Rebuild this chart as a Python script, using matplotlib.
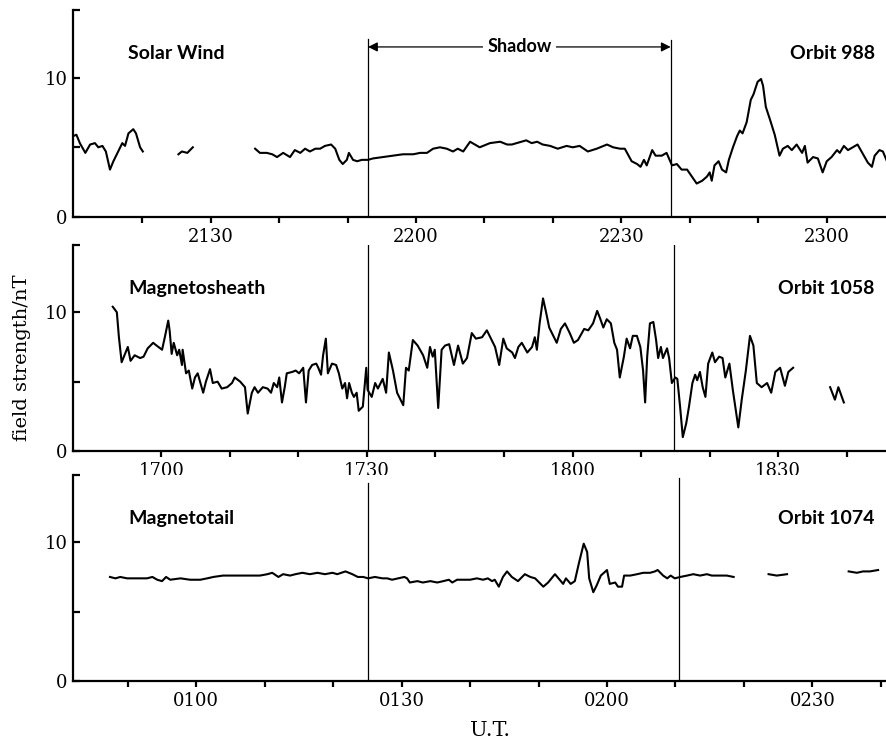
import numpy as np
import matplotlib.pyplot as plt

nan = np.nan

# Orbit 988, solar wind: minutes after 2100, field strength nT (nan = data gap)
sw_t = [9.9, 10.4, 10.9, 11.7, 12.4, 13.1, 13.6, 14.2, 14.7, 15.3, 15.8, 16.5, 17.1, 17.5, 18.0,
        18.7, 19.1, 19.7, 20.1, nan,
        25.3, 25.8, 26.6, 27.0, 27.4, nan,
        36.5, 37.2, 38.2, 39.0, 39.7, 40.6, 41.6, 42.3, 43.1, 43.8, 44.5, 45.3, 46.0, 46.7, 47.6,
        48.2, 48.8, 49.3, 49.9, 50.2, 50.8, 51.4, 52.1, 53.0, 53.7, 55.2, 56.6, 58.1, 59.6, 60.6,
        61.6, 62.5, 63.5, 64.5, 65.4, 66.1, 66.9, 67.9, 68.6, 69.3, 70.8, 72.3, 73.3, 74.0, 74.7,
        76.1, 76.9, 77.7, 78.5, 79.6, 80.7, 82.0, 82.9, 83.9, 85.1, 86.4, 87.9, 88.8, 89.8, 90.5,
        91.5, 92.3, 92.8, 93.3, 93.7, 94.5, 95.0, 95.9, 96.6, 97.4, 98.1, 98.8, 99.6, 100.3, 101.0,
        101.8, 102.5, 102.9, 103.2, 103.6, 104.2, 104.7, 105.3, 105.7, 106.3, 106.9, 107.3, 107.7,
        108.3, 108.9, 109.3, 109.9, 110.4, 110.7, 111.1, 111.7, 112.4, 113.1, 113.6, 114.3, 114.9,
        115.6, 116.4, 116.8, 117.2, 118.0, 118.7, 119.4, 120.0, 120.7, 121.5, 121.9, 122.5, 123.1,
        123.8, 124.5, 125.3, 126.0, 126.6, 127.0, 127.7, 128.2, 128.8]
sw_b = [5.8, 5.9, 5.3, 4.6, 5.2, 5.3, 5.0, 5.1, 4.7, 3.4, 4.0, 4.7, 5.3, 5.1, 6.0,
        6.3, 6.0, 5.0, 4.7, nan,
        4.5, 4.7, 4.6, 4.8, 5.0, nan,
        4.9, 4.6, 4.6, 4.5, 4.3, 4.6, 4.3, 4.8, 4.6, 4.9, 4.7, 4.9, 4.9, 5.1, 5.2,
        4.9, 4.1, 3.8, 4.1, 4.6, 4.1, 4.0, 4.1, 4.1, 4.2, 4.3, 4.4, 4.5, 4.5, 4.6,
        4.6, 4.9, 5.0, 4.9, 4.7, 4.9, 4.7, 5.4, 5.2, 5.0, 5.3, 5.4, 5.2, 5.2, 5.3,
        5.5, 5.3, 5.4, 5.2, 5.1, 4.9, 5.1, 5.0, 5.1, 4.7, 4.9, 5.2, 5.0, 4.9, 4.9,
        4.0, 3.8, 3.6, 4.1, 3.7, 4.8, 4.4, 4.4, 4.6, 3.7, 3.8, 3.4, 3.4, 2.9, 2.4,
        2.6, 2.9, 3.2, 2.6, 3.7, 4.0, 3.4, 3.2, 4.1, 5.0, 5.8, 6.2, 6.0,
        6.8, 8.4, 8.8, 9.7, 9.9, 9.4, 7.9, 7.0, 5.9, 4.4, 4.9, 5.1, 4.8,
        5.2, 4.6, 5.1, 3.9, 4.3, 4.2, 3.2, 4.0, 4.3, 4.8, 4.6, 5.1, 4.8,
        5.0, 5.2, 4.5, 3.9, 3.6, 4.4, 4.8, 4.7, 4.0]

# Orbit 1058, magnetosheath: minutes after 1700
ms_t = [-7.1, -6.5, -6.2, -5.8, -5.3, -4.9, -4.5, -3.9, -3.1, -2.6, -2.0, -1.2, -0.7, 0.1, 0.5,
        1.0, 1.2, 1.5, 1.8, 2.3, 2.6, 3.0, 3.1, 3.6, 4.0, 4.5, 4.9, 5.3, 6.1, 6.5, 7.1, 7.5, 8.2,
        8.8, 9.6, 10.3, 10.7, 11.5, 12.2, 12.6, 13.2, 13.6, 14.1, 14.8, 15.5, 16.0, 16.4, 16.9,
        17.2, 17.6, 18.0, 18.3, 19.1, 19.6, 20.1, 20.7, 21.1, 21.5, 22.0, 22.6, 22.9, 23.3, 23.6,
        24.0, 24.3, 24.9, 25.5, 25.9, 26.4, 26.8, 27.1, 27.4, 27.8, 28.1, 28.5, 28.8, 29.4, 29.9,
        30.1, 30.7, 31.2, 31.6, 32.3, 32.8, 33.2, 33.8, 34.4, 34.8, 35.3, 35.7, 36.1, 36.7, 37.4,
        38.2, 38.8, 39.2, 39.6, 39.9, 40.4, 40.9, 41.4, 42.0, 42.7, 43.3, 44.0, 44.6, 45.3, 45.9,
        46.8, 47.5, 48.2, 48.7, 49.3, 49.9, 50.4, 51.2, 51.6, 52.1, 52.6, 53.4, 54.1, 54.5, 54.8,
        55.2, 55.7, 56.1, 56.6, 57.2, 57.7, 58.3, 58.9, 59.6, 60.2, 60.8, 61.7, 62.3, 63.0, 63.6,
        64.0, 64.5, 65.0, 65.6, 66.1, 66.5, 66.9, 67.5, 67.9, 68.4, 68.8, 69.4, 69.9, 70.3, 70.6,
        70.9, 71.3, 71.8, 72.2, 72.5, 72.9, 73.2, 73.8, 74.1, 74.5, 75.0, 75.3, 75.7, 76.1, 76.6,
        77.0, 77.5, 77.9, 78.2, 78.6, 79.0, 79.4, 79.8, 80.4, 80.8, 81.4, 81.9, 82.3, 82.9, 83.4,
        84.2, 84.7, 85.3, 85.9, 86.4, 86.9, 87.6, 88.4, 89.0, 89.6, 90.3, 91.0, 91.5, 92.2, nan,
        97.6, 98.3, 98.8, 99.6]
ms_b = [10.4, 10.0, 8.2, 6.4, 7.0, 7.5, 6.5, 6.9, 6.7, 6.8, 7.4, 7.8, 7.6, 7.3, 8.2,
        9.4, 8.7, 7.0, 7.8, 6.9, 7.3, 6.2, 7.3, 5.6, 5.8, 4.5, 5.3, 5.6, 4.2, 5.0, 5.9, 4.9, 5.0,
        4.5, 4.6, 4.9, 5.3, 5.0, 4.6, 2.7, 4.2, 4.6, 4.2, 4.6, 4.5, 4.2, 4.9, 4.6,
        5.3, 3.5, 4.6, 5.6, 5.7, 5.8, 5.6, 6.0, 3.5, 5.8, 6.2, 6.3, 6.0, 5.5, 6.9,
        8.1, 5.6, 6.3, 6.2, 5.6, 4.5, 4.9, 3.8, 4.9, 4.2, 3.9, 4.2, 2.9, 3.2, 6.0,
        4.4, 3.9, 4.9, 4.5, 5.2, 4.2, 7.1, 5.8, 4.2, 3.8, 3.3, 6.0, 5.8, 8.0, 7.6,
        6.9, 6.0, 7.5, 6.8, 7.3, 3.1, 7.3, 7.6, 7.7, 6.2, 7.6, 6.3, 6.7, 8.5, 8.1,
        8.2, 8.7, 8.0, 7.5, 6.2, 8.1, 7.4, 7.1, 6.7, 7.5, 7.8, 7.1, 7.5, 8.2, 7.3,
        9.2, 11.0, 10.1, 8.9, 8.3, 7.8, 8.8, 9.2, 8.5, 7.8, 8.0, 8.8, 8.7, 9.2, 10.1,
        9.6, 8.9, 9.5, 9.2, 7.8, 7.3, 5.3, 6.8, 8.1, 7.4, 8.3, 8.3, 7.5, 5.8, 3.5,
        6.8, 9.2, 9.3, 8.0, 6.7, 7.5, 6.7, 7.4, 6.7, 4.9, 5.3, 5.2, 3.2, 1.0, 2.0,
        3.2, 4.9, 5.5, 5.1, 5.7, 4.6, 3.9, 6.3, 7.1, 6.4, 6.8, 6.7, 5.3, 6.3, 4.4,
        1.7, 3.7, 5.8, 8.3, 7.6, 4.9, 4.6, 4.9, 4.2, 5.7, 6.0, 4.7, 5.7, 6.0, nan,
        4.6, 3.7, 4.6, 3.5]

# Orbit 1074, magnetotail: minutes after 0000
mt_t = [47.4, 48.2, 48.9, 49.9, 50.8, 51.8, 52.8, 53.6, 54.3, 55.0, 55.6, 56.2, 57.7, 59.1, 60.6,
        61.6, 62.5, 63.9, 65.0, 66.4, 67.9, 69.3, 70.4, 71.1, 72.0, 72.7, 73.7, 74.5, 75.5, 76.6,
        77.7, 78.8, 79.9, 80.6, 81.8, 82.8, 83.6, 84.4, 85.1, 86.1, 87.2, 87.9, 88.6, 89.5, 90.4,
        90.8, 91.2, 92.3, 93.1, 94.2, 95.2, 96.1, 96.9, 97.4, 98.1, 99.0, 100.0, 101.0, 101.9,
        102.6, 103.2, 103.6, 104.2, 104.8, 105.4, 106.1, 107.0, 108.0, 108.8, 109.5, 110.7, 111.4,
        112.4, 113.6, 114.0, 114.7, 115.3, 115.9, 116.6, 117.1, 117.4, 118.0, 118.5, 119.1, 120.0,
        120.4, 121.2, 121.6, 122.2, 122.5, 123.4, 124.4, 125.3, 126.3, 127.0, 127.4, 128.2, 128.8,
        129.3, 129.9, 130.7, 131.7, 132.6, 133.6, 134.6, 135.3, 136.2, 137.5, 138.5, nan,
        143.6, 144.8, 146.3, nan,
        155.3, 156.5, 157.4, 158.4, 159.6]
mt_b = [7.5, 7.4, 7.5, 7.4, 7.4, 7.4, 7.4, 7.5, 7.3, 7.2, 7.5, 7.3, 7.4, 7.3, 7.3,
        7.4, 7.5, 7.6, 7.6, 7.6, 7.6, 7.6, 7.7, 7.8, 7.5, 7.7, 7.6, 7.7, 7.8, 7.7,
        7.8, 7.7, 7.8, 7.7, 7.9, 7.7, 7.5, 7.5, 7.4, 7.5, 7.4, 7.4, 7.3, 7.4, 7.5,
        7.4, 7.1, 7.2, 7.1, 7.2, 7.1, 7.2, 7.3, 7.1, 7.3, 7.3, 7.3, 7.4, 7.3,
        7.4, 7.2, 7.3, 6.8, 7.5, 7.9, 7.5, 7.2, 7.7, 7.5, 7.4, 6.8, 7.1,
        7.7, 7.0, 7.4, 7.0, 7.2, 8.5, 9.9, 9.3, 7.4, 6.4, 6.9, 7.6, 8.0,
        7.0, 7.1, 6.8, 6.8, 7.6, 7.6, 7.7, 7.8, 7.8, 7.9, 8.0, 7.6, 7.4,
        7.6, 7.4, 7.5, 7.6, 7.7, 7.6, 7.7, 7.6, 7.6, 7.6, 7.5, nan,
        7.7, 7.6, 7.7, nan,
        7.9, 7.8, 7.9, 7.9, 8.0]

# panel setup: name, orbit, time, field, xlim, shadow lines, ticks, labelled ticks
panels = [
    ('Solar Wind', 'Orbit 988', sw_t, sw_b, (9.9, 128.8), (53.0, 97.2), (12.8, 12.7),
     list(range(20, 130, 10)), {30: '2130', 60: '2200', 90: '2230', 120: '2300'}),
    ('Magnetosheath', 'Orbit 1058', ms_t, ms_b, (-12.9, 105.9), (30.1, 74.8), (14.85, 14.85),
     list(range(0, 110, 10)), {0: '1700', 30: '1730', 60: '1800', 90: '1830'}),
    ('Magnetotail', 'Orbit 1074', mt_t, mt_b, (42.0, 160.9), (85.1, 130.5), (14.3, 14.6),
     list(range(50, 170, 10)), {60: '0100', 90: '0130', 120: '0200', 150: '0230'}),
]

W, H = 887, 741
fig = plt.figure(figsize=(W / 100, H / 100), dpi=100)
serif = 'DejaVu Serif'
sans = 'Lato'
ytop = 14.85

boxes = [(217, 10), (451, 245), (681, 475)]  # pixel rows of y=0 and axis top

for (name, orbit, t, b, xl, vl, vtop, ticks, labs), (y0, y1) in zip(panels, boxes):
    ax = fig.add_axes([73 / W, (H - y0) / H, 1 - 73 / W, (y0 - y1) / H])
    ax.plot(t, b, color='black', lw=1.5, solid_joinstyle='round')
    for x, top in zip(vl, vtop):
        ax.plot([x, x], [0, top], color='black', lw=0.9)
    ax.set_xlim(*xl)
    ax.set_ylim(0, ytop)
    for s in ['top', 'right']:
        ax.spines[s].set_visible(False)
    for s in ['left', 'bottom']:
        ax.spines[s].set_linewidth(1.6)
    ax.set_xticks(ticks)
    ax.set_xticklabels([labs.get(k, '') for k in ticks], family=serif, fontsize=13)
    ax.set_yticks([0, 5, 10, ytop])
    ax.set_yticklabels(['0', '', '10', ''], family=serif, fontsize=13)
    ax.tick_params(axis='x', direction='out', length=4, width=1.6, pad=4)
    ax.tick_params(axis='y', direction='in', length=5, width=1.6, pad=4)
    ax.text(0.068, 0.79, name, transform=ax.transAxes, family=sans, fontweight='bold',
            fontsize=14, va='center', ha='left')
    ax.text(0.985, 0.79, orbit, transform=ax.transAxes, family=sans, fontweight='bold',
            fontsize=14, va='center', ha='right')
    if name == 'Solar Wind':
        ax.annotate('', xy=(vl[0], 12.2), xytext=(vl[1], 12.2),
                    arrowprops=dict(arrowstyle='<|-|>', color='black', lw=0.9,
                                    mutation_scale=14, shrinkA=0, shrinkB=0))
        ax.text((vl[0] + vl[1]) / 2, 12.2, 'Shadow', family=sans, fontweight='bold',
                fontsize=13, ha='center', va='center',
                bbox=dict(facecolor='white', edgecolor='none', pad=3))

fig.text(22 / W, 1 - 358 / H, 'field strength/nT', rotation=90, family=serif, fontsize=14,
         ha='center', va='center')
fig.text(490 / W, 1 - 730 / H, 'U.T.', family=serif, fontsize=15, ha='center', va='center')

fig.savefig('out.png', dpi=100)
